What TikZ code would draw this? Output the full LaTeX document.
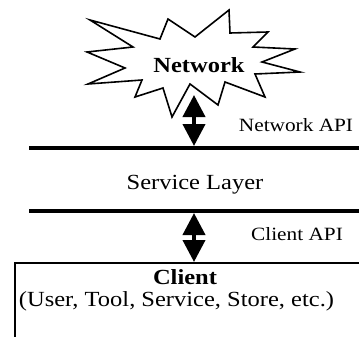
\documentclass[tikz,border=0pt]{standalone}
\usepackage{fontspec}
\setmainfont{Liberation Serif}
\usepackage{graphicx}
\usetikzlibrary{arrows.meta}
\newcommand\vsq[1]{\scalebox{1}[0.88]{#1}}
\begin{document}
\begin{tikzpicture}[x=1pt,y=-1pt,
  burst/.style={draw=black,line width=1.6pt,line join=miter,miter limit=20,fill=white},
  layerline/.style={line width=4pt},
  clientbox/.style={line width=2pt},
  biarrow/.style={line width=4pt,{Triangle[width=22pt,length=22pt]}-{Triangle[width=22pt,length=22pt]}},
  bigtext/.style={anchor=base,inner sep=0pt,font=\fontsize{24.5}{26}\selectfont},
  boldtext/.style={anchor=base,inner sep=0pt,font=\fontsize{24.5}{26}\selectfont\bfseries},
  smalltext/.style={anchor=base,inner sep=0pt,font=\fontsize{21.3}{23}\selectfont},
]
\useasboundingbox (0,0) rectangle (359,337);
% network burst
\draw[burst] (90,20) -- (160,39) -- (168,19) -- (195,37) -- (229,10) -- (230,33)
  -- (268,32) -- (253,47) -- (295,49) -- (262,62) -- (300,72) -- (255,74)
  -- (265,97) -- (225,82) -- (218,105) -- (190,84) -- (172,117) -- (163,88)
  -- (135,97) -- (142,80) -- (88,84) -- (125,68) -- (87,52) -- (133,47) -- cycle;
\node[boldtext] (network) at (199,72.5) {\vsq{Network}};
% coordinates
\coordinate (nettip) at (194,95);
\coordinate (l1w) at (29,148);
\coordinate (l1e) at (362,148);
\coordinate (l1top) at (194,146);
\coordinate (l2w) at (29,211);
\coordinate (l2e) at (362,211);
\coordinate (l2bot) at (194,213);
\coordinate (boxtop) at (194,262);
\coordinate (cbl) at (15,342);
\coordinate (ctl) at (15,263);
\coordinate (ctr) at (362,263);
% layer lines
\draw[layerline] (l1w) -- (l1e);
\draw[layerline] (l2w) -- (l2e);
% client box
\draw[clientbox] (cbl) -- (ctl) -- (ctr);
% arrows
\draw[biarrow] (nettip) -- (l1top);
\draw[biarrow] (l2bot) -- (boxtop);
% labels
\node[smalltext] (netapi) at (296,131.5) {\vsq{Network API}};
\node[bigtext] (service) at (195,189) {\vsq{Service Layer}};
\node[smalltext] (cliapi) at (297,240) {\vsq{Client API}};
\node[boldtext] (client) at (185,284) {\vsq{Client}};
\node[bigtext] (clientsub) at (176.5,306) {\vsq{(User, Tool, Service, Store, etc.)}};
\end{tikzpicture}
\end{document}
